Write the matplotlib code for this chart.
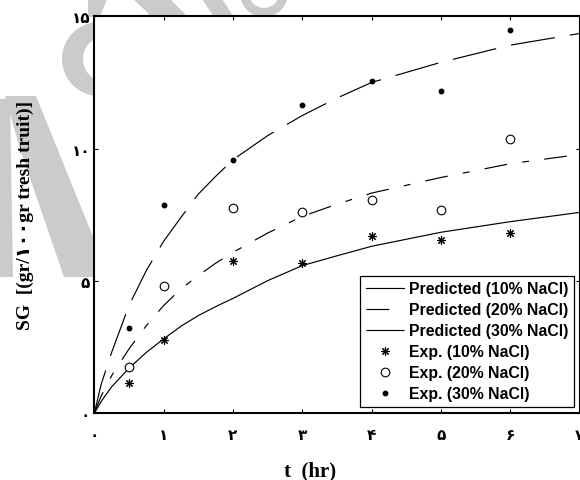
import matplotlib
matplotlib.use("Agg")
import matplotlib.pyplot as plt
from matplotlib.patches import Polygon
import numpy as np

# ---------------- data ----------------
t_exp = [0.5, 1, 2, 3, 4, 5, 6]
exp10 = [1.13, 2.78, 5.75, 5.67, 6.69, 6.55, 6.80]
exp20 = [1.74, 4.82, 7.76, 7.61, 8.06, 7.68, 10.35]
exp30 = [3.22, 7.88, 9.57, 11.63, 12.57, 12.16, 14.48]

t_pred = [0, 0.1, 0.25, 0.5, 0.75, 1, 1.25, 1.5, 1.75, 2, 2.5, 3, 3.5, 4, 5, 6, 7]
pred10 = [0, 0.45, 1.00, 1.70, 2.30, 2.81, 3.29, 3.69, 4.03, 4.34, 5.01, 5.58, 5.95, 6.31, 6.84, 7.24, 7.59]
pred20 = [0, 0.66, 1.42, 2.43, 3.31, 4.07, 4.70, 5.20, 5.67, 6.08, 6.81, 7.44, 7.90, 8.32, 8.91, 9.43, 9.78]
pred30 = [0, 1.10, 2.30, 4.07, 5.39, 6.50, 7.40, 8.28, 8.95, 9.58, 10.49, 11.25, 11.91, 12.50, 13.26, 13.91, 14.35]

xticks = [0, 1, 2, 3, 4, 5, 6, 7]
xticklabels = ["۰", "۱", "۲", "۳", "۴", "۵", "۶", "۷"]
yticks = [0, 5, 10, 15]
yticklabels = ["۰", "۵", "۱۰", "۱۵"]

labels = ["Predicted (10% NaCl)", "Predicted (20% NaCl)", "Predicted (30% NaCl)",
          "Exp. (10% NaCl)", "Exp. (20% NaCl)", "Exp. (30% NaCl)"]

# ---------------- figure ----------------
W, H = 580, 481
plt.rcParams['lines.scale_dashes'] = False
fig = plt.figure(figsize=(W / 100, H / 100), dpi=100)

# watermark on a full-figure background axes (pixel coordinates, y down)
bg = fig.add_axes([0, 0, 1, 1], zorder=-1)
bg.set_xlim(0, W)
bg.set_ylim(H, 0)
bg.axis('off')
wm = "#cbcbcb"
def poly(pts, color=wm):
    bg.add_patch(Polygon(pts, closed=True, facecolor=color, edgecolor='none'))

ang_o = np.linspace(np.radians(70), np.radians(290), 40)
outer = [(99 + 37 * np.cos(a), 60 - 37 * np.sin(a)) for a in ang_o]
inner = [(106 + 23 * np.cos(a), 60 - 23 * np.sin(a)) for a in ang_o[::-1]]
poly(outer + inner)
poly([(5, 97), (36, 97), (96, 245), (96, 278), (64, 278), (20, 150)])
poly([(0, 100), (10, 100), (13, 278), (0, 278)])
poly([(88, 0), (107, 0), (100, 18), (88, 18)])
poly([(133, 0), (170, 0), (188, 18), (152, 18)])
poly([(202, 0), (222, 0), (234, 18), (214, 18)])
ang_a = np.linspace(np.radians(15), np.radians(165), 30)
arc_o = [(264 + 24 * np.cos(a), -6 + 24 * np.sin(a)) for a in ang_a]
arc_i = [(264 + 15 * np.cos(a), -6 + 15 * np.sin(a)) for a in ang_a[::-1]]
poly(arc_o + arc_i)

ax = fig.add_axes([94.3 / W, 1 - 414.3 / H, (579.5 - 94.3) / W, (414.3 - 17.3) / H], zorder=1)
ax.set_facecolor('white')

lw = 0.85
l10, = ax.plot(t_pred, pred10, color='black', lw=lw, linestyle='-')
l20, = ax.plot(t_pred, pred20, color='black', lw=lw, linestyle=(0, (16.5, 11, 5, 11)))
l30, = ax.plot(t_pred, pred30, color='black', lw=lw, linestyle=(0, (32, 11)))

m10, = ax.plot(t_exp, exp10, linestyle='none', marker=(8, 2, 0), markersize=6,
               markeredgewidth=0.8, color='black')
m20, = ax.plot(t_exp, exp20, linestyle='none', marker='o', markersize=6.2,
               markerfacecolor='white', markeredgecolor='black', markeredgewidth=0.8)
m30, = ax.plot(t_exp, exp30, linestyle='none', marker='o', markersize=3.2,
               color='black')

ax.set_xlim(0, 7)
ax.set_ylim(0, 15)
ax.set_xticks(xticks)
ax.set_xticklabels(xticklabels)
ax.set_yticks(yticks)
ax.set_yticklabels(yticklabels)
for sp in ax.spines.values():
    sp.set_linewidth(1.5)
ax.tick_params(direction='in', length=3, width=0.8, top=True, right=True)
ax.tick_params(axis='x', pad=10)
ax.tick_params(axis='y', pad=3)
for lab in ax.get_xticklabels() + ax.get_yticklabels():
    lab.set_fontfamily(['DejaVu Sans'])
    lab.set_fontweight('bold')
    lab.set_fontsize(11)

leg = ax.legend([l10, l20, l30, m10, m20, m30], labels,
                loc='lower right', bbox_to_anchor=(0.9887, 0.0159),
                prop={'family': 'Liberation Sans', 'weight': 'bold', 'size': 11.4},
                handlelength=2.45, handletextpad=0.3, labelspacing=0.38,
                borderpad=0.35, borderaxespad=0, fancybox=False, framealpha=1,
                edgecolor='black')
leg.get_frame().set_linewidth(0.9)

fig.text(25 / W, 1 - 215 / H, "SG  [(gr/۱۰۰gr tresh truit)]", rotation=90,
         ha='center', va='center', fontsize=14, fontweight='bold',
         family=['Liberation Serif', 'DejaVu Sans'], zorder=5)
fig.text(310 / W, 1 - 471 / H, "t  (hr)", ha='center', va='center',
         fontsize=15, fontweight='bold', family=['Liberation Serif'], zorder=5)

fig.savefig("out.png", dpi=100)
